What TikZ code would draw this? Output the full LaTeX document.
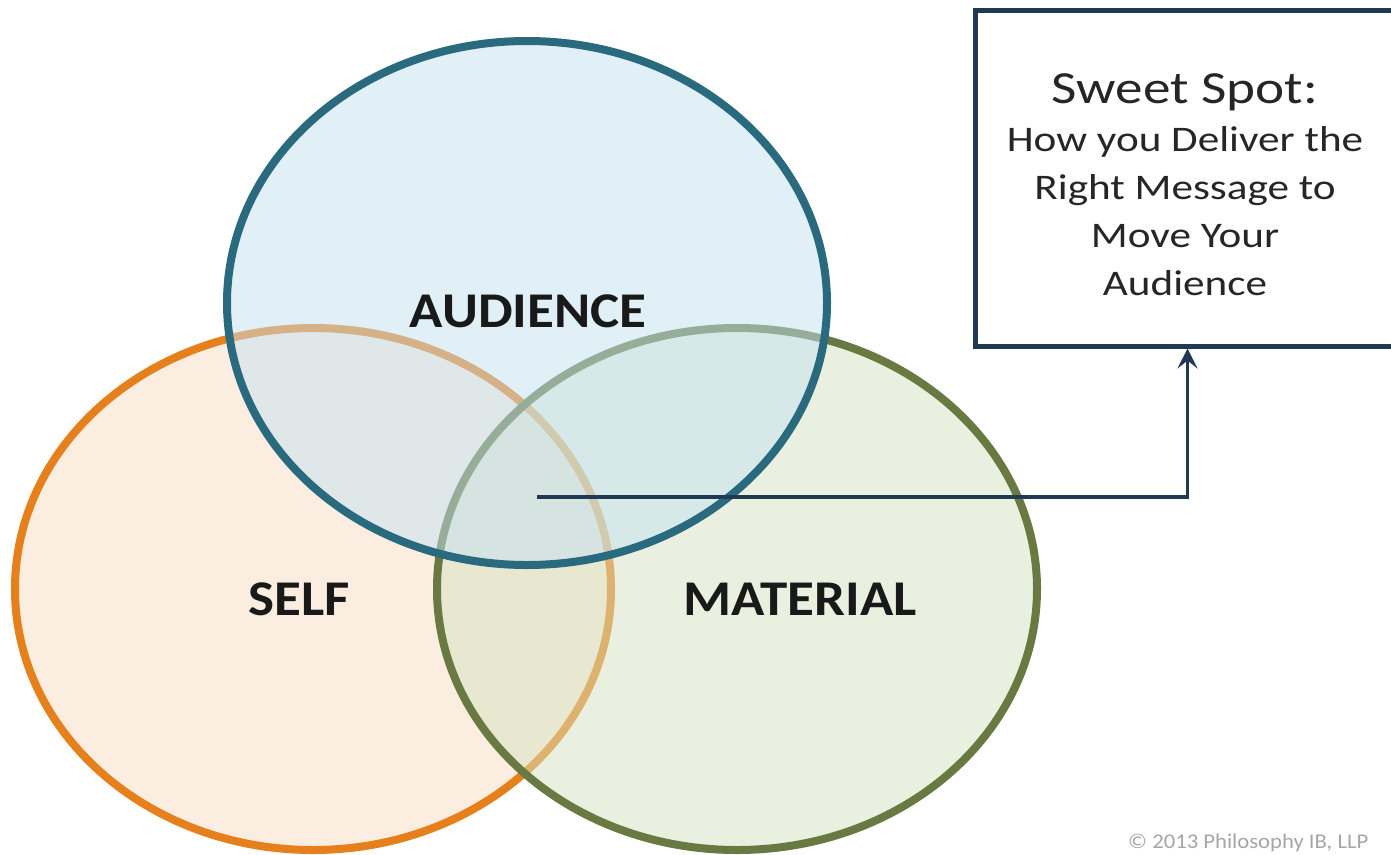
\documentclass[tikz,border=0pt]{standalone}
\usepackage{fontspec}
\setmainfont{Carlito}
\usetikzlibrary{arrows.meta}

\definecolor{audring}{HTML}{2A6A7E}
\definecolor{audfill}{HTML}{C4E3F1}
\definecolor{selfring}{HTML}{E5801C}
\definecolor{selffill}{HTML}{FBDCC4}
\definecolor{matring}{HTML}{687A42}
\definecolor{matfill}{HTML}{D6E3C0}
\definecolor{navy}{HTML}{203A54}

\newcommand{\wide}[2][1.1]{\scalebox{#1}[1]{#2}}

\tikzset{
  ring/.style={line width=8pt},
  lbl/.style={font=\fontsize{50}{60}\selectfont\bfseries, text=black!90, inner sep=0pt},
  sweetbox/.style={draw=navy, line width=5pt, fill=white, minimum width=425pt, minimum height=336pt, inner sep=0pt},
  sweettxt/.style={font=\fontsize{36}{48}\selectfont, text=black!85, inner sep=0pt},
  pointer/.style={draw=navy, line width=3.5pt, -{Stealth[length=20pt,width=20pt,inset=8pt]}},
  copyr/.style={font=\fontsize{21}{24}\selectfont, text=black!35, inner sep=0pt}
}

\begin{document}
\begin{tikzpicture}[x=1pt,y=-1pt]
	\useasboundingbox (0,0) rectangle (1391,854);
	\fill[white] (0,0) rectangle (1391,854);

	\draw[ring, draw=selfring, fill=selffill, fill opacity=.5] (313,589) ellipse [x radius=298, y radius=261];
	\draw[ring, draw=matring, fill=matfill, fill opacity=.5] (737,589) ellipse [x radius=300, y radius=261];
	\draw[ring, draw=audring, fill=audfill, fill opacity=.5] (527,303) ellipse [x radius=300, y radius=262];

	\node[lbl] (audlbl) at (528,311) {\wide{AUDIENCE}};
	\node[lbl] (selflbl) at (299,599) {\wide{SELF}};
	\node[lbl] (matlbl) at (800,599) {\wide{MATERIAL}};

	\node[sweetbox] (sweet) at (1187.5,178) {};
	\node[sweettxt] (sweettext) at (1185,190) {\wide[1.2]{\begin{tabular}{@{}c@{}}
		{\fontsize{46}{48}\selectfont Sweet Spot:}\\
		How you Deliver the\\
		Right Message to\\
		Move Your\\
		Audience
	\end{tabular}}};

	\coordinate (spot) at (537,497);
	\draw[pointer] (spot) -| (sweet.south);

	\node[copyr, anchor=base west] (credit) at (1128,848) {\wide[1.08]{© 2013 Philosophy IB, LLP}};
\end{tikzpicture}
\end{document}
